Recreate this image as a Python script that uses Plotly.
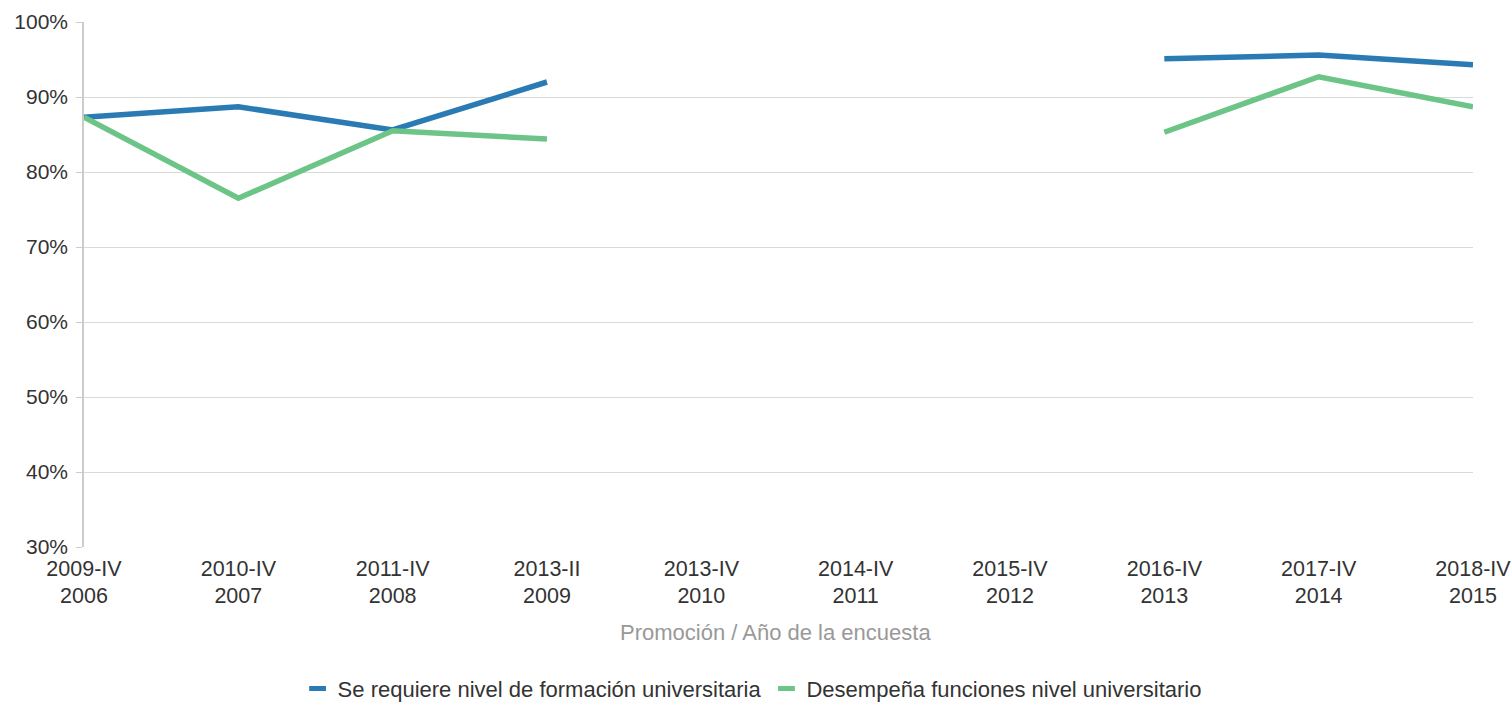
import plotly.graph_objects as go

categories = ["2009-IV<br>2006", "2010-IV<br>2007", "2011-IV<br>2008", "2013-II<br>2009",
              "2013-IV<br>2010", "2014-IV<br>2011", "2015-IV<br>2012", "2016-IV<br>2013",
              "2017-IV<br>2014", "2018-IV<br>2015"]
requiere = [87.3, 88.7, 85.6, 92.0, None, None, None, 95.1, 95.6, 94.3]
desempena = [87.3, 76.5, 85.5, 84.4, None, None, None, 85.3, 92.7, 88.7]
series_names = ["Se requiere nivel de formación universitaria", "Desempeña funciones nivel universitario"]
colors = ["#2a7ab4", "#6cc487"]

x = list(range(len(categories)))
fig = go.Figure()
for name, vals, col in zip(series_names, [requiere, desempena], colors):
    fig.add_trace(go.Scatter(x=x, y=vals, name=name, mode="lines", showlegend=False,
                             line=dict(color=col, width=5.5), connectgaps=False))
for name, col in zip(series_names, colors):
    fig.add_trace(go.Scatter(x=[None], y=[None], name=name, mode="markers", showlegend=True,
                             marker=dict(symbol="line-ew", size=12,
                                         line=dict(color=col, width=5))))

font_family = "Liberation Sans, Arial, sans-serif"
fig.update_layout(
    width=1511, height=703, autosize=False,
    margin=dict(l=84, r=38, t=22, b=156, autoexpand=False),
    plot_bgcolor="white", paper_bgcolor="white",
    font=dict(family=font_family, size=21, color="#333333"),
    showlegend=True,
    legend=dict(orientation="h", xref="paper", x=0.481, xanchor="center",
                y=-0.270, yanchor="middle", font=dict(size=22, color="#333333"),
                traceorder="normal", itemsizing="trace"),
    annotations=[dict(text="Promoción / Año de la encuesta", xref="paper", yref="paper",
                      x=0.4975, y=-0.162, xanchor="center", yanchor="middle", showarrow=False,
                      font=dict(size=22, color="#999999"))],
)
fig.update_xaxes(
    tickmode="array", tickvals=x, ticktext=categories, tickangle=0, automargin=False,
    range=[0, len(categories) - 1], showgrid=False, zeroline=False, ticklabeloverflow="allow",
    showline=False, ticks="", ticklabelstandoff=6, tickfont=dict(size=21.5, color="#333333"),
)
fig.update_yaxes(
    range=[30, 100], dtick=10, ticksuffix="%", showgrid=True, gridcolor="#d9d9d9",
    gridwidth=1, zeroline=False, showline=True, linecolor="#cccccc", linewidth=1.5,
    ticks="outside", ticklen=6, tickcolor="#cccccc", automargin=False, ticklabelstandoff=4,
    tickfont=dict(size=21, color="#333333"),
)
fig.write_html("out.html", post_script="document.body.style.margin='0';",
               config={"displayModeBar": False})
